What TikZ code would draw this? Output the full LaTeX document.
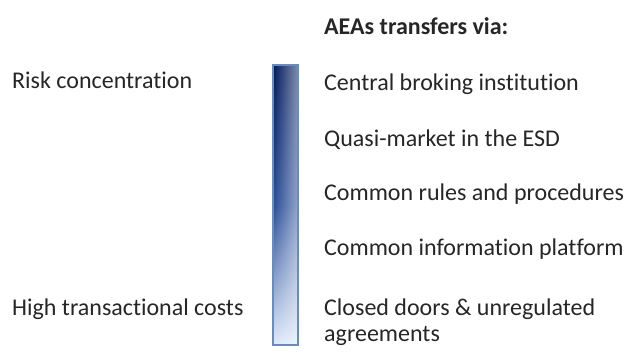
\documentclass[tikz,border=0pt]{standalone}
\usepackage{fontspec}
\setmainfont{Carlito}[Ligatures=NoCommon]
\usetikzlibrary{positioning, fadings}
\definecolor{barnavy}{RGB}{2,25,90}
\definecolor{barmid}{RGB}{40,76,150}
\definecolor{barlight}{RGB}{222,234,252}
\definecolor{barline}{RGB}{105,140,190}

\begin{document}
\begin{tikzpicture}[x=1pt, y=-1pt, font=\fontsize{24}{26}\selectfont,
    item/.style={anchor=base west, inner sep=0pt, text=black!85},
    scalebar/.style={draw=barline, line width=1.2pt, minimum width=25pt, minimum height=280pt,
        inner sep=0pt, top color=barnavy, bottom color=barlight, middle color=barmid,
        path picture={\fill[white, opacity=0.5, path fading=west]
            (path picture bounding box.south west) rectangle (path picture bounding box.north east);}}]
\useasboundingbox (0,0) rectangle (630,358);

\node[item] (risk) at (12,89) {Risk concentration};
\node[item] (costs) at (12,316) {High transactional costs};

\node[scalebar] (scale) at (285.5,205) {};

\node[item, font=\fontsize{24}{26}\selectfont\bfseries] (head) at (324,35) {AEAs transfers via:};
\node[item] (central) at (324,91) {Central broking institution};
\node[item] (quasi) at (324,147) {Quasi-market in the ESD};
\node[item] (rules) at (324,201) {Common rules and procedures};
\node[item] (platform) at (324,256) {Common information platform};
\node[item, align=left] (closed) at (324,342) {Closed doors \& unregulated\\agreements};
\end{tikzpicture}
\end{document}
